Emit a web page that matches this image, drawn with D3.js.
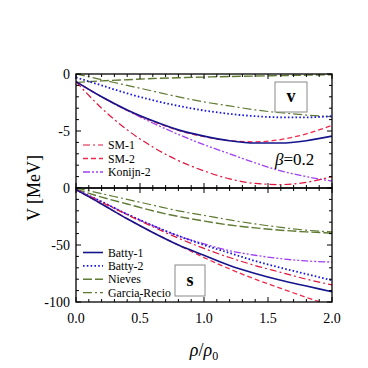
<!DOCTYPE html>
<html lang="en">
<head>
<meta charset="UTF-8">
<title>V and S potentials</title>
<script src="https://d3js.org/d3.v7.min.js"></script>
<style>
  body { margin: 0; background: #fff; }
</style>
</head>
<body>
<div id="plot"></div>
<script>
// density grid rho/rho0
const rho = [0, 0.2, 0.4, 0.6, 0.8, 1.0, 1.2, 1.4, 1.6, 1.8, 2.0];

// vector potential V [MeV] (upper panel)
const vBatty1 = [-0.67, -2.0, -3.15, -4.1, -4.9, -5.45, -5.85, -6.05, -6.05, -5.85, -5.45];
const vBatty2 = [-0.3, -1.0, -1.7, -2.3, -2.8, -3.2, -3.5, -3.7, -3.8, -3.8, -3.7];
const vSM1 = [-0.67, -3.0, -4.9, -6.4, -7.6, -8.5, -9.2, -9.6, -9.7, -9.5, -9.0];
const vSM2 = [-0.67, -2.0, -3.2, -4.15, -4.95, -5.5, -5.85, -5.95, -5.75, -5.25, -4.5];
const vKonijn2 = [-0.7, -2.0, -3.2, -4.3, -5.3, -6.2, -7.0, -7.8, -8.5, -9.0, -9.4];
const vNieves = [-0.75, -0.6, -0.5, -0.4, -0.33, -0.27, -0.22, -0.18, -0.14, -0.1, -0.07];
const vGarcia = [0, -0.5, -1.0, -1.5, -2.0, -2.45, -2.8, -3.15, -3.4, -3.6, -3.75];

// scalar potential S [MeV] (lower panel)
const sBatty1 = [-1.5, -14, -27, -39, -50, -59, -68, -75, -81, -86, -91];
const sBatty2 = [-1.5, -12, -23, -33, -42, -50, -57, -64, -70, -75.5, -81];
const sSM1 = [-1.5, -12.5, -23.5, -34, -44, -53, -61, -68, -74, -80, -85];
const sSM2 = [-1.5, -14, -27, -39, -50, -61, -71, -80, -88, -96, -103];
const sKonijn2 = [-1.5, -12, -23, -33, -42, -49, -55, -59, -62, -64, -65];
const sNieves = [-1, -8, -14, -20, -25, -29, -32.5, -35, -37, -38.5, -39.5];
const sGarcia = [0, -5, -10, -15, -20, -24, -28, -31.5, -34.5, -37, -38.5];

const xTicks = [0, 0.5, 1.0, 1.5, 2.0];
const vTicks = [0, -5];
const sTicks = [0, -50, -100];

const styles = {
  "Batty-1":      { color: "#14148c", dash: null, w: 1.6 },
  "Batty-2":      { color: "#1a1ad6", dash: "1.6,2.2", w: 1.8 },
  "SM-1":         { color: "#e0143c", dash: "7,3,2,3", w: 1.2 },
  "SM-2":         { color: "#f0284a", dash: "5,3", w: 1.3 },
  "Konijn-2":     { color: "#a040f0", dash: "7,2,2,2,2,2", w: 1.3 },
  "Nieves":       { color: "#5f7a32", dash: "9,3", w: 1.4 },
  "Garcia-Recio": { color: "#5f7a32", dash: "9,3,2,3", w: 1.2 }
};

const vSeries = [
  ["Garcia-Recio", vGarcia], ["Nieves", vNieves], ["Batty-2", vBatty2],
  ["Konijn-2", vKonijn2], ["SM-1", vSM1], ["SM-2", vSM2], ["Batty-1", vBatty1]
];
const sSeries = [
  ["Garcia-Recio", sGarcia], ["Nieves", sNieves], ["Konijn-2", sKonijn2],
  ["Batty-2", sBatty2], ["SM-1", sSM1], ["SM-2", sSM2], ["Batty-1", sBatty1]
];

const width = 368, height = 368;
const left = 76, right = 332;
const vTop = 74, mid = 188, sBottom = 302;

const svg = d3.select("#plot").append("svg")
  .attr("width", width).attr("height", height)
  .attr("font-family", "'Liberation Serif', 'Times New Roman', Times, 'DejaVu Serif', serif");

const x = d3.scaleLinear().domain([0, 2]).range([left, right]);
const yV = d3.scaleLinear().domain([-10, 0]).range([mid, vTop]);
const yS = d3.scaleLinear().domain([-100, 0]).range([sBottom, mid]);

function panel(id, y, series, yMajor, yMinorStep, labels) {
  const [y0, y1] = y.range();
  svg.append("clipPath").attr("id", id)
    .append("rect").attr("x", left).attr("y", y1).attr("width", right - left).attr("height", y0 - y1);

  const g = svg.append("g").attr("clip-path", `url(#${id})`);
  const line = d3.line().curve(d3.curveMonotoneX).x((d, i) => x(rho[i])).y(d => y(d));
  series.forEach(([name, vals]) => {
    const st = styles[name];
    g.append("path").datum(vals)
      .attr("fill", "none").attr("stroke", st.color)
      .attr("stroke-width", st.w)
      .attr("stroke-dasharray", st.dash)
      .attr("d", line);
  });

  // ticks, pointing inward on all four sides
  const ax = svg.append("g").attr("stroke", "#000").attr("stroke-width", 1);
  const [dMin, dMax] = y.domain();
  for (let v = dMin; v <= dMax + 1e-9; v += yMinorStep) {
    const major = yMajor.some(t => Math.abs(t - v) < 1e-6);
    const len = major ? 5 : 3;
    ax.append("line").attr("x1", left).attr("x2", left + len).attr("y1", y(v)).attr("y2", y(v));
    ax.append("line").attr("x1", right).attr("x2", right - len).attr("y1", y(v)).attr("y2", y(v));
  }
  for (let i = 0; i <= 20; i++) {
    const v = i / 10;
    const len = i % 5 === 0 ? 5 : 3;
    ax.append("line").attr("x1", x(v)).attr("x2", x(v)).attr("y1", y0).attr("y2", y0 - len);
    ax.append("line").attr("x1", x(v)).attr("x2", x(v)).attr("y1", y1).attr("y2", y1 + len);
  }
  svg.append("rect").attr("x", left).attr("y", y1).attr("width", right - left).attr("height", y0 - y1)
    .attr("fill", "none").attr("stroke", "#000").attr("stroke-width", 1.3);

  yMajor.forEach(t => {
    svg.append("text").attr("x", left - 6).attr("y", y(t)).attr("dy", "0.35em")
      .attr("text-anchor", "end").attr("font-size", 14).text(t);
  });

  // legend
  labels.forEach((name, i) => {
    const st = styles[name];
    const ly = labels.y0 + i * labels.step;
    svg.append("line").attr("x1", 83).attr("x2", 103).attr("y1", ly).attr("y2", ly)
      .attr("stroke", st.color).attr("stroke-width", st.w).attr("stroke-dasharray", st.dash);
    svg.append("text").attr("x", 108).attr("y", ly).attr("dy", "0.35em")
      .attr("font-size", 11.8).text(name);
  });
}

const vLegend = ["SM-1", "SM-2", "Konijn-2"]; vLegend.y0 = 145; vLegend.step = 13.5;
const sLegend = ["Batty-1", "Batty-2", "Nieves", "Garcia-Recio"]; sLegend.y0 = 252.5; sLegend.step = 13.4;

panel("clipV", yV, vSeries, vTicks, 1, vLegend);
panel("clipS", yS, sSeries, sTicks, 10, sLegend);

// x tick labels
xTicks.forEach(t => {
  svg.append("text").attr("x", x(t)).attr("y", 318).attr("dy", "0.35em")
    .attr("text-anchor", "middle").attr("font-size", 14).text(t.toFixed(1));
});

// panel tags
function tag(x0, y0, w, h, label) {
  svg.append("rect").attr("x", x0).attr("y", y0).attr("width", w).attr("height", h)
    .attr("fill", "#fff").attr("stroke", "#888").attr("stroke-width", 1);
  svg.append("text").attr("x", x0 + w / 2).attr("y", y0 + h / 2).attr("dy", "0.3em")
    .attr("text-anchor", "middle").attr("font-size", 18).attr("font-weight", "bold").text(label);
}
tag(275, 82, 32, 30, "v");
tag(175, 265, 30, 31, "s");

// beta label
svg.append("text").attr("x", 275).attr("y", 165).attr("font-size", 17)
  .html('<tspan font-style="italic">β</tspan>=0.2');

// axis titles
svg.append("text").attr("transform", "translate(40,188) rotate(-90)")
  .attr("text-anchor", "middle").attr("font-size", 18).text("V [MeV]");
svg.append("text").attr("x", 204).attr("y", 356).attr("text-anchor", "middle").attr("font-size", 18)
  .html('<tspan font-style="italic">ρ</tspan>/<tspan font-style="italic">ρ</tspan><tspan font-size="12" dy="4">0</tspan>');
</script>
</body>
</html>
